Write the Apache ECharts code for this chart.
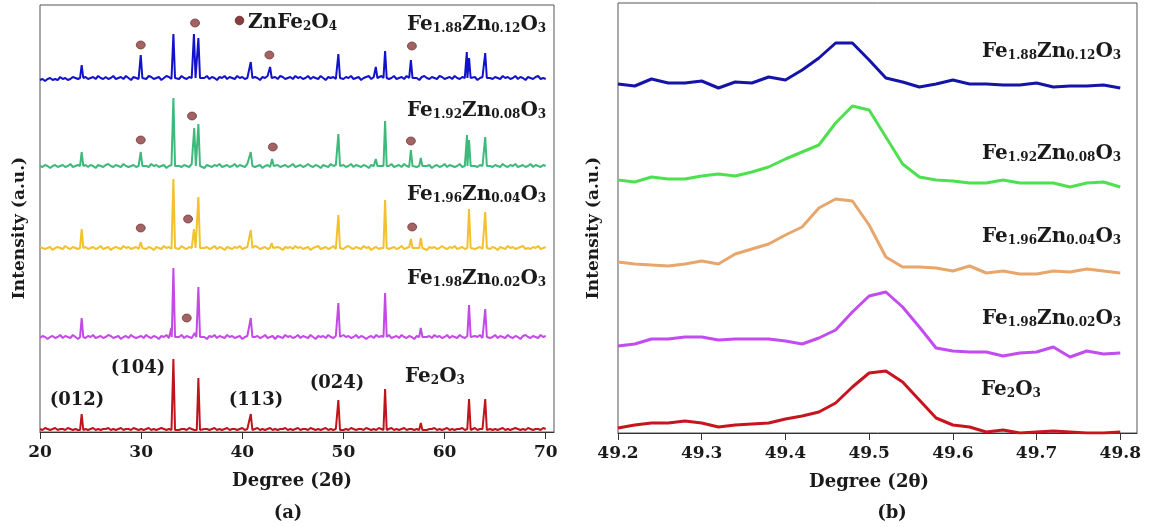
<!DOCTYPE html>
<html><head><meta charset="utf-8">
<script src="https://cdn.jsdelivr.net/npm/echarts@6/dist/echarts.min.js"></script>
<style>html,body{margin:0;padding:0;background:#fff}#c{width:1152px;height:527px}</style>
</head><body><div id="c"></div>
<script>
// ---------- DATA ----------
const ticksA = [20, 30, 40, 50, 60, 70];
const ticksB = [49.2, 49.3, 49.4, 49.5, 49.6, 49.7, 49.8];

// sample names as [main, sub, main, sub, ...]
const sampleParts = [
  ['Fe','1.88','Zn','0.12','O','3'],
  ['Fe','1.92','Zn','0.08','O','3'],
  ['Fe','1.96','Zn','0.04','O','3'],
  ['Fe','1.98','Zn','0.02','O','3'],
  ['Fe','2','O','3']
];
const phaseParts = ['ZnFe','2','O','4'];
const hklLabels = ['(012)', '(104)', '(113)', '(024)'];
const axisNameX = 'Degree (2θ)';
const axisNameY = 'Intensity (a.u.)';

// panel (a): stacking offsets (a.u.)
const offsetsA = [354, 266, 184, 95, 2];

// panel (a): baseline noise read every 0.25 deg from 20 to 70
const noiseBlue = [
 -2,-1,-3,-1,0,-2,-1,-2,1,-1,0,-2,-1,1,0,-1,-2,0,1,-1,
 0,1,-1,2,0,-1,1,-1,0,2,-1,0,1,-1,2,0,-2,1,0,-1,
 1,0,-1,2,1,-1,0,1,-2,0,2,1,-1,0,1,-1,2,0,-1,1,
 0,-1,2,1,-1,0,2,-1,1,0,-2,1,0,2,-1,1,0,-1,2,0,
 1,-1,0,2,-1,1,0,-2,1,0,2,-1,0,1,-1,2,1,-1,0,1,
 -1,2,0,1,-1,0,2,-1,1,0,-1,2,0,-2,1,0,1,-1,2,0,
 -1,1,0,2,-1,0,1,-2,0,1,2,-1,1,0,-1,2,0,1,-1,0,
 2,-1,0,1,-1,2,0,-1,1,0,-2,1,2,0,-1,1,0,-1,2,1,
 -1,0,1,-1,2,0,-1,1,0,2,-1,0,1,-2,0,1,-1,2,0,-1,
 1,0,-1,2,0,1,-1,0,2,-1,1,0,-2,1,0,-1,1,2,-1,0,
 -1];
const noiseGreen = [
 0,-1,1,0,-2,0,1,-1,0,1,-1,0,2,-1,0,1,-2,0,1,-1,
 1,0,-2,1,0,-1,1,2,0,-1,1,0,-1,2,0,-1,0,1,-1,0,
 -1,1,0,-1,2,0,1,-1,0,1,-2,0,1,-1,2,0,-1,1,0,-1,
 2,0,-1,1,0,-2,1,0,-1,1,0,2,-1,0,1,-1,0,2,-1,1,
 0,-1,2,0,1,-1,0,1,-2,0,1,-1,0,2,1,-1,0,1,-1,0,
 2,-1,0,1,-1,0,2,0,-1,1,0,-2,1,0,-1,2,0,1,-1,0,
 1,-1,0,2,-1,1,0,-1,1,0,-2,1,0,2,-1,0,1,-1,0,2,
 -1,0,1,-1,2,0,-1,1,0,-1,2,1,-1,0,1,-2,0,1,-1,0,
 2,-1,1,0,-1,0,2,-1,0,1,-1,2,0,-1,1,0,-2,1,0,-1,
 1,0,-1,2,0,-1,1,0,2,-1,0,1,-1,0,2,-1,1,0,-1,1,
 0];
const noiseYellow = [
 1,0,-1,0,1,-2,0,1,0,-1,2,0,-1,1,0,-1,2,0,1,-1,
 0,1,-1,0,2,-1,0,1,-2,0,1,0,-1,2,0,1,-1,0,1,-1,
 2,0,-1,1,0,-2,1,0,-1,2,0,1,-1,0,1,-1,2,0,-1,1,
 0,-1,1,2,-1,0,1,-1,0,2,-1,1,0,-2,1,0,-1,1,0,2,
 -1,0,1,-1,0,2,1,-1,0,1,-1,2,0,-1,1,0,-2,1,0,1,
 -1,2,0,1,-1,0,1,-2,0,1,2,-1,0,1,-1,0,2,-1,1,0,
 -1,1,2,0,-1,1,0,-1,2,0,1,-2,0,1,-1,0,2,1,-1,0,
 1,-1,0,2,-1,0,1,-1,2,0,-1,1,0,-2,1,0,1,-1,0,2,
 0,-1,1,0,2,-1,0,1,-1,0,2,1,-1,0,1,-1,0,2,-1,1,
 0,-2,1,0,-1,2,0,1,-1,0,1,2,-1,0,-1,1,0,2,-1,0,
 1];
const noisePurple = [
 -1,1,0,-2,0,1,-1,0,2,-1,1,0,-1,2,0,-2,1,0,-1,1,
 0,2,-1,0,1,-1,0,2,1,-1,0,1,-2,0,1,-1,2,0,-1,0,
 1,-1,2,0,-1,1,0,-2,1,0,2,-1,0,1,-1,0,2,-1,1,0,
 -1,2,0,1,-1,0,-2,1,0,2,-1,1,0,-1,2,0,1,-1,0,1,
 -2,0,1,-1,2,0,1,-1,0,2,-1,0,1,-2,1,0,-1,2,0,1,
 -1,0,2,-1,1,0,-1,2,0,-2,1,0,1,-1,2,0,-1,1,0,-1,
 2,0,1,-1,0,2,-1,1,0,-2,0,1,-1,2,0,1,-1,0,2,-1,
 0,1,-1,2,0,-1,1,0,-2,1,0,2,-1,0,1,-1,2,0,1,-1,
 0,2,-1,1,0,-1,2,0,-1,1,0,-2,1,0,2,-1,0,1,-1,0,
 2,-1,1,0,-1,2,0,-1,1,0,-2,1,2,0,-1,1,0,-1,2,0,
 1];
const noiseRed = [
 1,0,2,1,0,1,2,0,1,1,0,2,1,0,1,0,2,1,1,0,
 1,2,0,1,0,1,1,2,0,1,0,1,2,0,1,1,0,2,1,0,
 1,0,1,2,0,1,0,1,2,1,0,1,0,2,1,0,1,1,0,2,
 1,0,1,0,2,1,1,0,1,2,0,1,0,1,2,0,1,1,0,1,
 2,0,1,0,1,1,2,0,1,0,1,2,0,1,0,1,1,2,0,1,
 0,1,2,0,1,1,0,2,1,0,1,0,1,2,0,1,0,1,2,1,
 0,1,0,2,1,0,1,1,0,2,1,0,1,0,2,1,1,0,1,2,
 0,1,0,1,2,0,1,1,0,1,2,0,1,0,1,1,2,0,1,0,
 1,2,0,1,0,1,1,2,0,1,0,1,2,0,1,1,0,2,1,0,
 1,0,1,2,0,1,0,1,2,1,0,1,0,2,1,0,1,1,0,2,
 1];

// panel (a): peaks [2theta, height above baseline]
const peaksBlue = [[24.12,13],[29.96,23],[33.19,44],[35.22,44],[35.66,40],[40.84,16],[42.75,11],[49.50,24],[53.20,11],[54.12,27],[56.67,18],[62.20,26],[62.42,20],[64.02,25]];
const peaksGreen = [[24.12,14],[29.96,14],[33.19,68],[35.25,38],[35.66,42],[40.84,14],[42.95,7],[49.50,32],[53.20,7],[54.12,45],[56.67,16],[57.65,8],[62.22,31],[62.42,26],[64.02,29]];
const peaksYellow = [[24.12,19],[29.96,6],[33.19,69],[35.22,19],[35.66,51],[40.84,18],[42.90,5],[49.50,33],[54.12,48],[56.67,9],[57.65,10],[62.42,39],[64.02,36]];
const peaksPurple = [[24.12,19],[32.98,9],[33.19,69],[35.30,4],[35.66,50],[40.84,19],[49.50,34],[54.12,44],[57.65,9],[62.42,32],[64.02,28]];
const peaksRed = [[24.12,16],[33.19,71],[35.66,52],[40.84,16],[49.50,30],[54.12,41],[57.65,7],[62.42,31],[64.02,31]];

// panel (a): ZnFe2O4 markers [2theta, a.u.]
const znDots = [[29.96,387],[35.33,409],[42.68,377],[56.77,386],
                [29.96,292],[35.03,316],[43.02,285],[56.67,291],
                [29.96,204],[34.64,213],[56.80,205],
                [34.51,114]];

// panel (b): 2theta sampling and intensities (a.u., offsets included)
const degB = [49.20,49.22,49.24,49.26,49.28,49.30,49.32,49.34,49.36,49.38,49.40,49.42,49.44,49.46,49.48,49.50,49.52,49.54,49.56,49.58,49.60,49.62,49.64,49.66,49.68,49.70,49.72,49.74,49.76,49.78,49.80];
const bBlue   = [349,347,354,350,350,352,345,351,350,356,353,363,375,390,390,373,355,351,346,349,353,349,349,348,348,350,346,347,347,348,345];
const bGreen  = [253,251,256,254,254,257,259,257,261,266,274,281,288,310,327,323,296,269,256,253,252,250,250,253,250,250,250,246,250,251,246];
const bOrange = [171,169,168,167,169,172,169,179,184,189,198,206,225,234,232,208,176,166,166,165,162,167,160,162,159,159,162,161,164,162,160];
const bPurple = [87,89,94,94,96,96,93,94,94,94,92,89,95,103,121,137,141,126,106,85,82,81,81,77,80,81,86,76,82,79,80];
const bRed    = [5,8,10,10,12,10,6,8,9,10,14,17,21,30,46,60,62,51,33,15,8,6,1,3,0,1,2,1,0,0,1];

// ---------- BUILD ----------
const FONT = 'DejaVu Serif';
const TXT = '#1a1a1a';
const HW = 0.16;
const noisesA = [noiseBlue, noiseGreen, noiseYellow, noisePurple, noiseRed];
const peaksA = [peaksBlue, peaksGreen, peaksYellow, peaksPurple, peaksRed];
const colorsA = ['#1212cc', '#3db97b', '#f2c12e', '#c24be6', '#c0141c'];
const colorsB = ['#1414a8', '#4fe04f', '#e6a66c', '#c24cf0', '#c8141e'];
const valsB = [bBlue, bGreen, bOrange, bPurple, bRed];

function buildPattern(noise, peaks, off) {
  const pts = [];
  const step = (ticksA[ticksA.length - 1] - ticksA[0]) / (noise.length - 1);
  noise.forEach((n, i) => {
    const x = ticksA[0] + i * step;
    if (!peaks.some(p => Math.abs(x - p[0]) <= HW)) pts.push([x, off + n]);
  });
  peaks.forEach(p => {
    pts.push([p[0] - HW, off]); pts.push([p[0], off + p[1]]); pts.push([p[0] + HW, off]);
  });
  pts.sort((a, b) => a[0] - b[0]);
  return pts;
}
function richOf(parts) {
  return parts.map((t, i) => (i % 2 === 0 ? '{b|' : '{s|') + t + '}').join('');
}
const rich = {
  b: {fontFamily: FONT, fontWeight: 'bold', fontSize: 20, fill: TXT, verticalAlign: 'bottom', lineHeight: 24},
  s: {fontFamily: FONT, fontWeight: 'bold', fontSize: 12, fill: TXT, verticalAlign: 'bottom', lineHeight: 16}
};
function txt(x, y, text, opts, extra) {
  return Object.assign({type: 'text', x: x, y: y, z: 100,
    style: Object.assign({text: text, fill: TXT, fontFamily: FONT, fontWeight: 'bold', fontSize: 18,
      align: 'center', verticalAlign: 'middle'}, opts || {})}, extra || {});
}

const series = [];
peaksA.forEach((pk, k) => {
  series.push({type: 'line', xAxisIndex: 0, yAxisIndex: 0, name: sampleParts[k].join(''),
    data: buildPattern(noisesA[k], pk, offsetsA[k]), showSymbol: false, silent: true,
    lineStyle: {color: colorsA[k], width: 2}, itemStyle: {color: colorsA[k]}});
});
series.push({type: 'scatter', xAxisIndex: 0, yAxisIndex: 0, name: 'ZnFe2O4', data: znDots,
  symbol: 'circle', symbolSize: [9, 8], z: 5,
  itemStyle: {color: '#8c3c3c', borderColor: '#5e2424', borderWidth: 0.8}});
valsB.forEach((v, k) => {
  series.push({type: 'line', xAxisIndex: 1, yAxisIndex: 1, name: sampleParts[k].join('') + ' (b)',
    data: degB.map((d, i) => [d, v[i]]), showSymbol: false, silent: true,
    lineStyle: {color: colorsB[k], width: 3, join: 'round'}, itemStyle: {color: colorsB[k]}});
});

const tickLabel = {fontFamily: FONT, fontWeight: 'bold', fontSize: 17, color: TXT, margin: 12};
const nameStyle = {fontFamily: FONT, fontWeight: 'bold', fontSize: 18, color: TXT};

const graphic = [];
// panel (a) sample labels
const labelYA = [23, 109, 193, 277];
labelYA.forEach((y, k) => graphic.push(txt(407, y, richOf(sampleParts[k]), {rich: rich, align: 'left'})));
graphic.push(txt(405, 375, richOf(sampleParts[4]), {rich: rich, align: 'left'}));
// legend for ZnFe2O4
graphic.push({type: 'circle', shape: {cx: 239.5, cy: 20.5, r: 4.3}, z: 100,
  style: {fill: '#8c3c3c', stroke: '#5e2424', lineWidth: 0.8}});
graphic.push(txt(248, 21, richOf(phaseParts), {rich: rich, align: 'left'}));
// hkl labels
graphic.push(txt(77, 400, hklLabels[0]));
graphic.push(txt(138, 368, hklLabels[1]));
graphic.push(txt(256, 400, hklLabels[2]));
graphic.push(txt(337, 383, hklLabels[3]));
// panel (b) sample labels
const labelYB = [50, 152, 235, 317];
labelYB.forEach((y, k) => graphic.push(txt(982, y, richOf(sampleParts[k]), {rich: rich, align: 'left'})));
graphic.push(txt(981, 388, richOf(sampleParts[4]), {rich: rich, align: 'left'}));
// y axis titles
graphic.push(txt(20, 228, axisNameY, {fontSize: 17}, {rotation: Math.PI / 2}));
graphic.push(txt(594, 228, axisNameY, {fontSize: 17}, {rotation: Math.PI / 2}));
// panel captions
graphic.push(txt(288, 513, '(a)'));
graphic.push(txt(892, 513, '(b)'));

const axisX = (min, max, ticks, interval, fmt, pad) => ({
  type: 'value', min: min, max: max, interval: interval,
  name: axisNameX, nameLocation: 'middle', nameGap: 40,
  nameTextStyle: Object.assign({padding: pad}, nameStyle),
  axisLine: {show: true, onZero: false, lineStyle: {color: '#333', width: 1}},
  axisTick: {show: true, inside: false, length: 7, customValues: ticks, lineStyle: {color: '#333'}},
  axisLabel: Object.assign({customValues: ticks, formatter: fmt}, tickLabel),
  splitLine: {show: false}
});
const axisY = (max) => ({
  type: 'value', min: 0, max: max,
  axisLine: {show: false}, axisTick: {show: false}, axisLabel: {show: false}, splitLine: {show: false}
});

const option = {
  animation: false,
  backgroundColor: '#fff',
  grid: [
    {left: 40, top: 5, width: 514, height: 427, show: true, borderColor: '#555', borderWidth: 1},
    {left: 618, top: 3, width: 519, height: 430, show: true, borderColor: '#555', borderWidth: 1}
  ],
  xAxis: [
    Object.assign(axisX(20, 70.82, ticksA, 10, v => String(Math.round(v)), [0, 10, 0, 0]), {gridIndex: 0}),
    Object.assign(axisX(49.2, 49.82, ticksB, 0.1, v => v.toFixed(1), [0, 17, 0, 0]), {gridIndex: 1})
  ],
  yAxis: [
    Object.assign(axisY(427), {gridIndex: 0}),
    Object.assign(axisY(430), {gridIndex: 1})
  ],
  series: series,
  graphic: graphic
};
const chart = echarts.init(document.getElementById('c'), null, {renderer: 'canvas'});
chart.setOption(option);
</script></body></html>
